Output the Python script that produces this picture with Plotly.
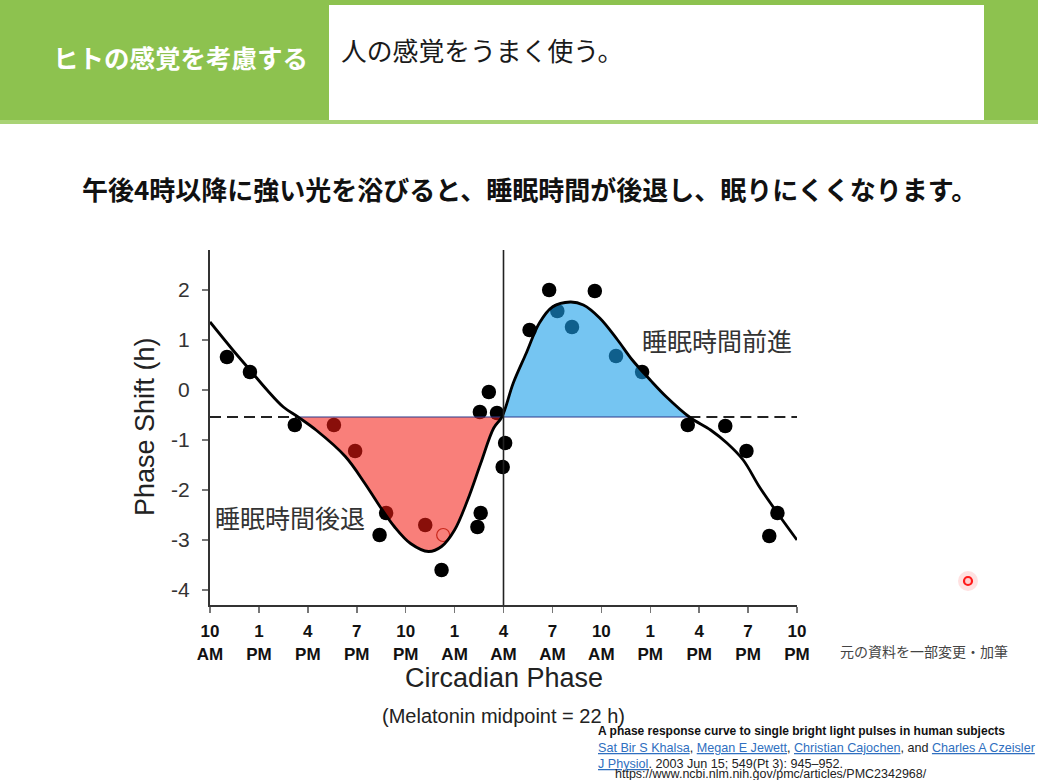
import plotly.graph_objects as go

W, H = 1038, 780

# ---------------- data ----------------
tick_hours = [0, 3, 6, 9, 12, 15, 18, 21, 24, 27, 30, 33, 36]
tick_labels = ["10<br>AM", "1<br>PM", "4<br>PM", "7<br>PM", "10<br>PM", "1<br>AM", "4<br>AM",
               "7<br>AM", "10<br>AM", "1<br>PM", "4<br>PM", "7<br>PM", "10<br>PM"]
y_ticks = [2, 1, 0, -1, -2, -3, -4]

curve_x = [0, 1.4, 2.45, 3.5, 4.5, 5.4, 6.5, 8.3, 9.5, 10.3, 11.3, 12.3, 13.4, 14.2, 15.0,
           15.8, 16.6, 17.4, 17.9, 18.6, 19.4, 20.2, 21.0, 22.1, 22.9, 23.9, 25.0, 25.9,
           27.0, 28.0, 29.4, 30.7, 31.7, 32.7, 33.7, 34.8, 36.0]
curve_y = [1.36, 0.8, 0.4, 0.0, -0.34, -0.54, -0.8, -1.33, -1.87, -2.27, -2.73, -3.07, -3.23,
           -3.13, -2.8, -2.2, -1.47, -0.76, -0.54, 0.14, 0.74, 1.34, 1.66, 1.76, 1.7, 1.44,
           1.0, 0.6, 0.2, -0.14, -0.54, -0.8, -1.06, -1.4, -1.94, -2.46, -3.0]

point_x = [1.04, 2.45, 5.2, 7.6, 8.9, 10.4, 10.8, 13.2, 14.2, 16.4, 16.6, 16.55, 17.1, 17.6,
           18.1, 17.95, 19.6, 20.8, 21.3, 22.2, 23.6, 24.9, 26.5, 29.3, 31.6, 32.9, 34.3, 34.8]
point_y = [0.66, 0.36, -0.7, -0.7, -1.22, -2.9, -2.46, -2.7, -3.6, -2.74, -2.46, -0.44, -0.04,
           -0.46, -1.06, -1.54, 1.2, 2.0, 1.58, 1.26, 1.98, 0.68, 0.36, -0.7, -0.72, -1.22,
           -2.92, -2.46]

open_x = [14.3]
open_y = [-2.9]

baseline = -0.54
delay_start, delay_end = 5.4, 17.9
advance_start, advance_end = 17.9, 29.4
divider_hour = 18
x_min, x_max = 0, 36
y_min, y_max = -4.3, 2.8

# ---------------- helpers ----------------
def px(x):
    return x / W

def py(y):
    return 1 - y / H

def segment(lo, hi):
    xs = [x for x in curve_x if lo <= x <= hi]
    ys = [y for x, y in zip(curve_x, curve_y) if lo <= x <= hi]
    return xs, ys

LAT = "Liberation Sans, Arial, sans-serif"
CJK = "Noto Sans CJK JP, sans-serif"

fig = go.Figure()

# dashed baseline outside the shaded areas
fig.add_trace(go.Scatter(x=[x_min, delay_start], y=[baseline, baseline], mode="lines",
                         line=dict(color="#222", width=2, dash="11px,6px"), hoverinfo="skip"))
fig.add_trace(go.Scatter(x=[advance_end, x_max], y=[baseline, baseline], mode="lines",
                         line=dict(color="#222", width=2, dash="11px,6px"), hoverinfo="skip"))

# data points
fig.add_trace(go.Scatter(x=point_x, y=point_y, mode="markers",
                         marker=dict(color="#000", size=14.5, line=dict(width=0)), hoverinfo="skip"))

# delay area (red)
dx, dy = segment(delay_start, delay_end)
fig.add_trace(go.Scatter(x=[delay_start, delay_end], y=[baseline, baseline], mode="lines",
                         line=dict(color="#2b3a8c", width=1.2), hoverinfo="skip"))
fig.add_trace(go.Scatter(x=dx, y=dy, mode="lines", line=dict(width=0, shape="spline"),
                         fill="tonexty", fillcolor="rgba(245,26,18,0.56)", hoverinfo="skip"))

# advance area (blue)
ax_, ay_ = segment(advance_start, advance_end)
fig.add_trace(go.Scatter(x=[advance_start, advance_end], y=[baseline, baseline], mode="lines",
                         line=dict(color="#2b3a8c", width=1.2), hoverinfo="skip"))
fig.add_trace(go.Scatter(x=ax_, y=ay_, mode="lines", line=dict(width=0, shape="spline"),
                         fill="tonexty", fillcolor="rgba(25,158,233,0.6)", hoverinfo="skip"))

# open point
fig.add_trace(go.Scatter(x=open_x, y=open_y, mode="markers",
                         marker=dict(symbol="circle-open", color="#c8281c", size=13,
                                     line=dict(width=1.2)), hoverinfo="skip"))

# fitted curve
fig.add_trace(go.Scatter(x=curve_x, y=curve_y, mode="lines",
                         line=dict(color="#000", width=2.8, shape="spline"), hoverinfo="skip"))

shapes = [
    # header band
    dict(type="rect", xref="paper", yref="paper", x0=0, x1=1, y0=py(124), y1=1,
         fillcolor="#8dc24f", line=dict(width=0), layer="below"),
    dict(type="rect", xref="paper", yref="paper", x0=0, x1=1, y0=py(124), y1=py(120),
         fillcolor="#a9d375", line=dict(width=0), layer="below"),
    dict(type="rect", xref="paper", yref="paper", x0=px(329), x1=px(984), y0=py(120), y1=py(5),
         fillcolor="#ffffff", line=dict(width=0), layer="below"),
    # vertical divider at 4 AM
    dict(type="line", xref="x", yref="y domain", x0=divider_hour, x1=divider_hour, y0=0, y1=1,
         line=dict(color="#222", width=1.6)),
    # laser pointer dot
    dict(type="circle", xref="paper", yref="paper", x0=px(958), x1=px(978), y0=py(591), y1=py(571),
         fillcolor="rgba(255,120,120,0.22)", line=dict(width=0)),
    dict(type="circle", xref="paper", yref="paper", x0=px(964), x1=px(972), y0=py(585), y1=py(577),
         fillcolor="#ffd0d0", line=dict(color="#ff1a1a", width=2.2)),
]

def ann(text, x, y, size, color="#222", family=LAT, xanchor="center", angle=0, **kw):
    return dict(text=text, x=px(x), y=py(y), xref="paper", yref="paper", showarrow=False,
                xanchor=xanchor, yanchor="middle", textangle=angle,
                font=dict(size=size, color=color, family=family), **kw)

link = "#2f6fc0"
annotations = [
    ann("<b>ヒトの感覚を考慮する</b>", 180, 57, 25.5, "#ffffff", CJK),
    ann("人の感覚をうまく使う。", 339, 50, 25.8, "#1a1a1a", CJK, xanchor="left"),
    ann("<b>午後4時以降に強い光を浴びると、睡眠時間が後退し、眠りにくくなります。</b>", 529, 188, 26,
        "#111", CJK),
    ann("睡眠時間後退", 290, 517, 25, "#333", CJK),
    ann("睡眠時間前進", 717, 340, 25, "#333", CJK),
    ann("Phase Shift (h)", 145, 427, 27, "#222", LAT, angle=-90),
    ann("Circadian Phase", 504, 678, 27, "#222", LAT),
    ann("(Melatonin midpoint = 22 h)", 503, 716, 20, "#222", LAT),
    ann("元の資料を一部変更・加筆", 924, 651, 14, "#444", CJK),
    ann("<b>A phase response curve to single bright light pulses in human subjects</b>", 596, 731,
        12, "#111", LAT, xanchor="left"),
    ann(f"<span style='color:{link}'><u>Sat Bir S Khalsa</u></span>, "
        f"<span style='color:{link}'><u>Megan E Jewett</u></span>, "
        f"<span style='color:{link}'><u>Christian Cajochen</u></span>, and "
        f"<span style='color:{link}'><u>Charles A Czeisler</u></span>", 596, 748, 12.6, "#222", LAT,
        xanchor="left"),
    ann(f"<span style='color:{link}'><u>J Physiol</u></span>. 2003 Jun 15; 549(Pt 3): 945–952.",
        596, 764, 12.6, "#222", LAT, xanchor="left"),
    ann("https://www.ncbi.nlm.nih.gov/pmc/articles/PMC2342968/", 613, 774, 12.5, "#222", LAT,
        xanchor="left"),
]

fig.update_layout(
    width=W, height=H,
    margin=dict(l=0, r=0, t=0, b=0, autoexpand=False),
    paper_bgcolor="#ffffff", plot_bgcolor="#ffffff",
    showlegend=False,
    shapes=shapes,
    annotations=annotations,
    xaxis=dict(domain=[px(210), px(797)], range=[x_min, x_max], tickmode="array",
               tickvals=tick_hours, ticktext=[f"<b>{t}</b>" for t in tick_labels],
               tickfont=dict(size=17, color="#111", family=LAT),
               showline=True, linecolor="#333", linewidth=2, ticks="outside", ticklen=6,
               tickcolor="#777", tickwidth=1.5, showgrid=False, zeroline=False,
               ticklabelstandoff=4, automargin=False),
    yaxis=dict(domain=[py(605), py(250)], range=[y_min, y_max], tickmode="array",
               tickvals=y_ticks, ticktext=[str(v) for v in y_ticks],
               tickfont=dict(size=21, color="#333", family=LAT),
               showline=True, linecolor="#333", linewidth=2, ticks="outside", ticklen=6,
               tickcolor="#777", tickwidth=1.5, showgrid=False, zeroline=False,
               ticklabelstandoff=8, automargin=False),
)

fig.write_html("out.html", config={"displayModeBar": False, "staticPlot": True},
               post_script="document.body.style.margin='0';document.body.style.overflow='hidden';")
